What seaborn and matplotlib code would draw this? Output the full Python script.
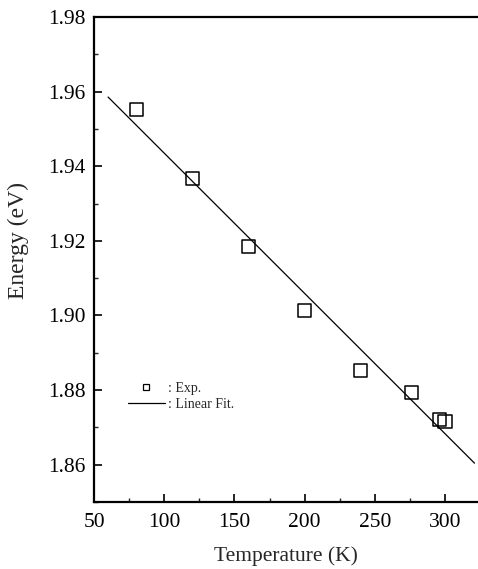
import numpy as np
import pandas as pd
import matplotlib
matplotlib.use("Agg")
import matplotlib.pyplot as plt
import seaborn as sns
from matplotlib.ticker import MultipleLocator
from matplotlib.lines import Line2D

# Data
temperature = [80, 120, 160, 200, 240, 276, 296, 300]
energy = [1.9553, 1.9368, 1.9185, 1.9013, 1.8852, 1.8793, 1.8721, 1.8716]
fit_range = [60, 321]

x_ticks = [50, 100, 150, 200, 250, 300]
y_ticks = [1.86, 1.88, 1.90, 1.92, 1.94, 1.96, 1.98]

sns.set_style("ticks")
plt.rcParams['font.family'] = ['Liberation Serif', 'DejaVu Serif']
plt.rcParams['mathtext.fontset'] = 'stix'

df = pd.DataFrame({"T": temperature, "E": energy})
slope, intercept = np.polyfit(temperature, energy, 1)
fit_df = pd.DataFrame({"T": fit_range,
                       "E": [slope * t + intercept for t in fit_range]})

fig = plt.figure(figsize=(4.78, 5.69), dpi=100)
ax = fig.add_axes([0.1967, 0.118, 0.8033, 0.852])

sns.lineplot(data=fit_df, x="T", y="E", ax=ax, color="black", linewidth=0.9)
sns.scatterplot(data=df, x="T", y="E", ax=ax, marker="s", s=90,
                facecolor="none", edgecolor="black", linewidth=1.1)

ax.set_xlim(50, 323.5)
ax.set_ylim(1.85, 1.98)
ax.set_xticks(x_ticks)
ax.set_yticks(y_ticks)
ax.set_yticklabels([f"{v:.2f}" for v in y_ticks])
ax.xaxis.set_minor_locator(MultipleLocator(25))
ax.yaxis.set_minor_locator(MultipleLocator(0.01))
ax.tick_params(which="major", direction="in", length=6, width=1.2,
               labelsize=15.5, colors="black")
ax.tick_params(axis="x", which="major", pad=8)
ax.tick_params(axis="y", which="major", pad=6)
ax.tick_params(which="minor", direction="in", length=3, width=1.0)
ax.tick_params(axis="x", top=False)
ax.tick_params(axis="y", right=False)

for side in ["left", "bottom", "top"]:
    ax.spines[side].set_linewidth(1.6)
    ax.spines[side].set_color("black")
ax.spines["right"].set_visible(False)

ax.set_xlabel("Temperature (K)", fontsize=15.5, labelpad=10)
ax.set_ylabel("Energy (eV)", fontsize=17, labelpad=14)
ax.yaxis.set_label_coords(-0.17, 0.54)

handles = [
    Line2D([], [], marker="s", linestyle="none", markersize=5,
           markerfacecolor="none", markeredgecolor="black", markeredgewidth=0.9),
    Line2D([], [], color="black", linewidth=0.9),
]
ax.legend(handles, [": Exp.", ": Linear Fit."], loc="upper left",
          bbox_to_anchor=(0.062, 0.268), frameon=False, fontsize=10,
          handlelength=2.7, handletextpad=0.2, labelspacing=0.25,
          borderpad=0.2)

fig.savefig("out.png", dpi=100)
